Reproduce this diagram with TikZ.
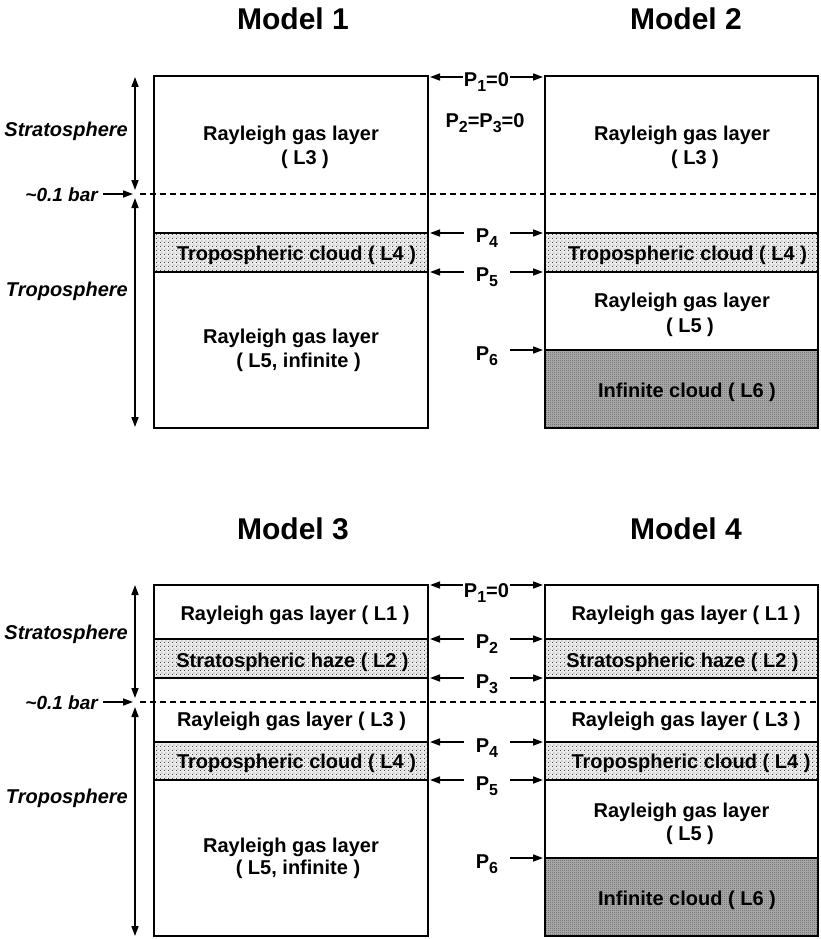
\documentclass[tikz,border=0pt]{standalone}
\usepackage{fontspec}
\setmainfont{Liberation Sans}
\usetikzlibrary{arrows.meta,patterns}
\pgfdeclarepatternformonly{lightdots}{\pgfqpoint{0pt}{0pt}}{\pgfqpoint{4pt}{4pt}}{\pgfqpoint{4pt}{4pt}}{%
  \pgfpathrectangle{\pgfqpoint{0pt}{0pt}}{\pgfqpoint{1pt}{1pt}}%
  \pgfpathrectangle{\pgfqpoint{2pt}{2pt}}{\pgfqpoint{1pt}{1pt}}%
  \pgfusepath{fill}}
\pgfdeclarepatternformonly{darkdots}{\pgfqpoint{0pt}{0pt}}{\pgfqpoint{2pt}{2pt}}{\pgfqpoint{2pt}{2pt}}{%
  \pgfpathrectangle{\pgfqpoint{0pt}{0pt}}{\pgfqpoint{1pt}{1pt}}%
  \pgfusepath{fill}}
\newcommand\mysub[1]{\raisebox{-5pt}{\fontsize{16}{18}\selectfont #1}}
\begin{document}
\begin{tikzpicture}[x=1pt,y=-1pt,
  layerbox/.style={draw=black,line width=1.6pt},
  lightfill/.style={fill=black!8,postaction={pattern=lightdots,pattern color=black!75}},
  darkfill/.style={fill=black!35,postaction={pattern=darkdots,pattern color=black!75}},
  txt/.style={font=\fontsize{20}{24}\selectfont\bfseries,inner sep=0pt,anchor=base},
  plbl/.style={txt,inner xsep=12pt},
  ttl/.style={font=\fontsize{30}{36}\selectfont\bfseries,inner sep=0pt,anchor=base},
  sidelbl/.style={font=\fontsize{20}{24}\selectfont\bfseries\itshape,inner sep=0pt,anchor=base east},
  barlbl/.style={font=\fontsize{19}{22}\selectfont\bfseries\itshape,inner ysep=0pt,inner xsep=5pt,anchor=base east},
  arr/.style={-{Triangle[length=10pt,width=7pt]},line width=1.6pt},
  darr/.style={{Triangle[length=10pt,width=7pt]}-{Triangle[length=10pt,width=7pt]},line width=1.6pt},
  sepline/.style={line width=1.3pt,dash pattern=on 6pt off 4pt}
]
\useasboundingbox (0,0) rectangle (821,939);

% ================= TOP PANEL =================
\node[ttl] (m1) at (293,30) {Model 1};
\node[ttl] (m2) at (686,30) {Model 2};

% fills
\fill[lightfill] (154,233) rectangle (428,272);
\fill[lightfill] (545,233) rectangle (818,272);
\fill[darkfill] (545,350) rectangle (818,428);
% dashed tropopause
\draw[sepline] (140,194) -- (818,194);
% outlines
\draw[layerbox] (154,76) rectangle (428,428);
\draw[layerbox] (154,233) -- (428,233) (154,272) -- (428,272);
\draw[layerbox] (545,76) rectangle (818,428);
\draw[layerbox] (545,233) -- (818,233) (545,272) -- (818,272) (545,350) -- (818,350);

% layer texts model 1
\node[txt] (t1a) at (291,140) {Rayleigh gas layer};
\node[txt] (t1b) at (305,164) {( L3 )};
\node[txt] (t1c) at (296.5,260) {Tropospheric cloud ( L4 )};
\node[txt] (t1d) at (291,343) {Rayleigh gas layer};
\node[txt] (t1e) at (298.5,367) {( L5, infinite )};
% layer texts model 2
\node[txt] (t2a) at (682,140) {Rayleigh gas layer};
\node[txt] (t2b) at (695,164) {( L3 )};
\node[txt] (t2c) at (687.5,260) {Tropospheric cloud ( L4 )};
\node[txt] (t2d) at (682,307) {Rayleigh gas layer};
\node[txt] (t2e) at (690,332) {( L5 )};
\node[txt] (t2f) at (687,397) {Infinite cloud ( L6 )};

% side labels top
\node[sidelbl] (s1) at (128,136) {Stratosphere};
\node[sidelbl] (s2) at (128,296) {Troposphere};
\node[barlbl] (bar1) at (103,201) {\textasciitilde0.1 bar};
\coordinate (sa1) at (135,77);
\coordinate (sb1) at (135,190);
\coordinate (sc1) at (135,198);
\coordinate (sd1) at (135,427);
\coordinate (bt1) at (133,194);
\draw[darr] (sa1) -- (sb1);
\draw[darr] (sc1) -- (sd1);
\draw[arr] (bar1.east |- bt1) -- (bt1);

% pressure labels top
\coordinate (ql1) at (430,77);  \coordinate (qr1) at (543,77);
\coordinate (ql4) at (430,233); \coordinate (qr4) at (543,233);
\coordinate (ql5) at (430,272); \coordinate (qr5) at (543,272);
\coordinate (qr6) at (543,350);
\node[txt,inner xsep=1pt] (pa1) at (486.5,87) {P\mysub{1}=0};
\node[txt] (pa23) at (485,128) {P\mysub{2}=P\mysub{3}=0};
\node[plbl] (pa4) at (487,242) {P\mysub{4}};
\node[plbl] (pa5) at (487,281) {P\mysub{5}};
\node[plbl] (pa6) at (487,360) {P\mysub{6}};
\draw[arr] (pa1.west |- ql1) -- (ql1);
\draw[arr] (pa1.east |- qr1) -- (qr1);
\draw[arr] (pa4.west |- ql4) -- (ql4);
\draw[arr] (pa4.east |- qr4) -- (qr4);
\draw[arr] (pa5.west |- ql5) -- (ql5);
\draw[arr] (pa5.east |- qr5) -- (qr5);
\draw[arr] (pa6.east |- qr6) -- (qr6);

% ================= BOTTOM PANEL =================
\node[ttl] (m3) at (293,539) {Model 3};
\node[ttl] (m4) at (686,539) {Model 4};

\fill[lightfill] (154,639) rectangle (428,678);
\fill[lightfill] (154,742) rectangle (428,780);
\fill[lightfill] (545,639) rectangle (818,678);
\fill[lightfill] (545,742) rectangle (818,780);
\fill[darkfill] (545,858) rectangle (818,936);
\draw[sepline] (140,702) -- (818,702);
\draw[layerbox] (154,585) rectangle (428,936);
\draw[layerbox] (154,639) -- (428,639) (154,678) -- (428,678) (154,742) -- (428,742) (154,780) -- (428,780);
\draw[layerbox] (545,585) rectangle (818,936);
\draw[layerbox] (545,639) -- (818,639) (545,678) -- (818,678) (545,742) -- (818,742) (545,780) -- (818,780) (545,858) -- (818,858);

% layer texts model 3
\node[txt] (t3a) at (295,620) {Rayleigh gas layer ( L1 )};
\node[txt] (t3b) at (292.5,667) {Stratospheric haze ( L2 )};
\node[txt] (t3c) at (291.5,726) {Rayleigh gas layer ( L3 )};
\node[txt] (t3d) at (296.5,768) {Tropospheric cloud ( L4 )};
\node[txt] (t3e) at (291,852) {Rayleigh gas layer};
\node[txt] (t3f) at (298,874) {( L5, infinite )};
% layer texts model 4
\node[txt] (t4a) at (686,620) {Rayleigh gas layer ( L1 )};
\node[txt] (t4b) at (682.5,667) {Stratospheric haze ( L2 )};
\node[txt] (t4c) at (686,726) {Rayleigh gas layer ( L3 )};
\node[txt] (t4d) at (691,768) {Tropospheric cloud ( L4 )};
\node[txt] (t4e) at (681.5,817) {Rayleigh gas layer};
\node[txt] (t4f) at (690,840) {( L5 )};
\node[txt] (t4g) at (687,905) {Infinite cloud ( L6 )};

% side labels bottom
\node[sidelbl] (s3) at (128,639) {Stratosphere};
\node[sidelbl] (s4) at (128,803) {Troposphere};
\node[barlbl] (bar2) at (103,709) {\textasciitilde0.1 bar};
\coordinate (sa2) at (135,585);
\coordinate (sb2) at (135,698);
\coordinate (sc2) at (135,707);
\coordinate (sd2) at (135,936);
\coordinate (bt2) at (133,702);
\draw[darr] (sa2) -- (sb2);
\draw[darr] (sc2) -- (sd2);
\draw[arr] (bar2.east |- bt2) -- (bt2);

% pressure labels bottom
\coordinate (rl1) at (430,585); \coordinate (rr1) at (543,585);
\coordinate (rl2) at (430,639); \coordinate (rr2) at (543,639);
\coordinate (rl3) at (430,678); \coordinate (rr3) at (543,678);
\coordinate (rl4) at (430,742); \coordinate (rr4) at (543,742);
\coordinate (rl5) at (430,780); \coordinate (rr5) at (543,780);
\coordinate (rr6) at (543,858);
\node[txt,inner xsep=1pt] (pb1) at (486.5,597) {P\mysub{1}=0};
\node[plbl] (pb2) at (487,648) {P\mysub{2}};
\node[plbl] (pb3) at (487,688) {P\mysub{3}};
\node[plbl] (pb4) at (487,752) {P\mysub{4}};
\node[plbl] (pb5) at (487,790) {P\mysub{5}};
\node[plbl] (pb6) at (487,868) {P\mysub{6}};
\draw[arr] (pb1.west |- rl1) -- (rl1);
\draw[arr] (pb1.east |- rr1) -- (rr1);
\draw[arr] (pb2.west |- rl2) -- (rl2);
\draw[arr] (pb2.east |- rr2) -- (rr2);
\draw[arr] (pb3.west |- rl3) -- (rl3);
\draw[arr] (pb3.east |- rr3) -- (rr3);
\draw[arr] (pb4.west |- rl4) -- (rl4);
\draw[arr] (pb4.east |- rr4) -- (rr4);
\draw[arr] (pb5.west |- rl5) -- (rl5);
\draw[arr] (pb5.east |- rr5) -- (rr5);
\draw[arr] (pb6.east |- rr6) -- (rr6);
\end{tikzpicture}
\end{document}
